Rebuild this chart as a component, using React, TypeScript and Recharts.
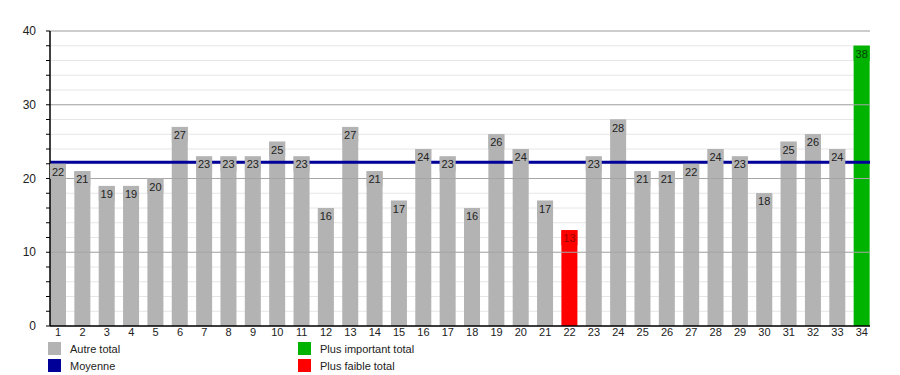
import React from 'react';
import {
  BarChart,
  Bar,
  XAxis,
  YAxis,
  CartesianGrid,
  ReferenceLine,
  LabelList,
  Cell,
} from 'recharts';

// données
const categories = [
  '1', '2', '3', '4', '5', '6', '7', '8', '9', '10', '11', '12', '13', '14', '15', '16', '17',
  '18', '19', '20', '21', '22', '23', '24', '25', '26', '27', '28', '29', '30', '31', '32', '33', '34',
];
const totals = [
  22, 21, 19, 19, 20, 27, 23, 23, 23, 25, 23, 16, 27, 21, 17, 24, 23,
  16, 26, 24, 17, 13, 23, 28, 21, 21, 22, 24, 23, 18, 25, 26, 24, 38,
];
const moyenne = 22.2;
const yTicks = [0, 2, 4, 6, 8, 10, 12, 14, 16, 18, 20, 22, 24, 26, 28, 30, 32, 34, 36, 38, 40];
const majorTicks = [10, 20, 30, 40];

const COLOR_OTHER = '#b3b3b3';
const COLOR_MAX = '#00b300';
const COLOR_MIN = '#ff0000';
const COLOR_AVG = '#000099';

const maxVal = Math.max(...totals);
const minVal = Math.min(...totals);

const data = categories.map((name, i) => ({ name, total: totals[i] }));

const barColor = (v: number) => (v === maxVal ? COLOR_MAX : v === minVal ? COLOR_MIN : COLOR_OTHER);
const textColor = (v: number) => (v === maxVal ? '#004400' : v === minVal ? '#990000' : '#222');

const FONT = "'Liberation Sans', Arial, sans-serif";

const YTick = (props: any) => {
  const { x, y, payload } = props;
  if (payload.value % 10 !== 0) return null;
  return (
    <text x={x} y={y} textAnchor="end" dominantBaseline="central" fontSize={12} fill="#222" fontFamily={FONT}>
      {payload.value}
    </text>
  );
};

// étiquette de valeur dans le haut de chaque barre
const ValueLabel = (props: any) => {
  const { x, y, width, value } = props;
  return (
    <g>
      <rect x={x} y={y} width={width} height={15} fill={barColor(value)} />
      <text x={x + width / 2} y={y + 8} textAnchor="middle" dominantBaseline="central" fontSize={11}
        fill={textColor(value)} fontFamily={FONT}>
        {value}
      </text>
    </g>
  );
};

const legendItems = [
  { label: 'Autre total', color: COLOR_OTHER, left: 48, top: 342 },
  { label: 'Moyenne', color: COLOR_AVG, left: 48, top: 359 },
  { label: 'Plus important total', color: COLOR_MAX, left: 298, top: 342 },
  { label: 'Plus faible total', color: COLOR_MIN, left: 298, top: 359 },
];

const App: React.FC = () => {
  return (
    <div style={{ position: 'absolute', left: 0, top: 0, width: 900, height: 375, background: '#fff', fontFamily: FONT }}>
      <BarChart width={900} height={340} data={data} margin={{ top: 31, right: 30, left: 0, bottom: 0 }}>
        <CartesianGrid vertical={false} stroke="#e6e6e6" strokeWidth={1} />
        {majorTicks.map((t) => (
          <ReferenceLine key={t} y={t} stroke="#a6a6a6" strokeWidth={1} />
        ))}
        <XAxis
          dataKey="name"
          height={14}
          tickLine={false}
          tickSize={0}
          tickMargin={2}
          interval={0}
          padding={{ left: -4, right: -4 }}
          axisLine={{ stroke: '#000', strokeWidth: 1.5 }}
          tick={{ fontSize: 11, fill: '#222', fontFamily: FONT }}
        />
        <XAxis xAxisId="lbl" dataKey="name" hide padding={{ left: -4, right: -4 }} />
        <YAxis
          width={50}
          domain={[0, 40]}
          ticks={yTicks}
          interval={0}
          tickSize={4}
          tickMargin={10}
          axisLine={{ stroke: '#000', strokeWidth: 1.5 }}
          tickLine={{ stroke: '#000' }}
          tick={<YTick />}
        />
        <Bar dataKey="total" barSize={16} isAnimationActive={false}>
          {data.map((d, i) => (
            <Cell key={`cell-${i}`} fill={barColor(d.total)} />
          ))}
        </Bar>
        <ReferenceLine y={moyenne} stroke={COLOR_AVG} strokeWidth={3} />
        <Bar dataKey="total" xAxisId="lbl" barSize={16} fill="transparent" isAnimationActive={false}>
          <LabelList dataKey="total" content={<ValueLabel />} />
        </Bar>
      </BarChart>
      {legendItems.map((it) => (
        <div key={it.label} style={{ position: 'absolute', left: it.left, top: it.top, display: 'flex',
          alignItems: 'center', fontSize: 11, color: '#222', height: 13 }}>
          <span style={{ display: 'inline-block', width: 13, height: 13, background: it.color }} />
          <span style={{ marginLeft: 9 }}>{it.label}</span>
        </div>
      ))}
    </div>
  );
};

export default App;
